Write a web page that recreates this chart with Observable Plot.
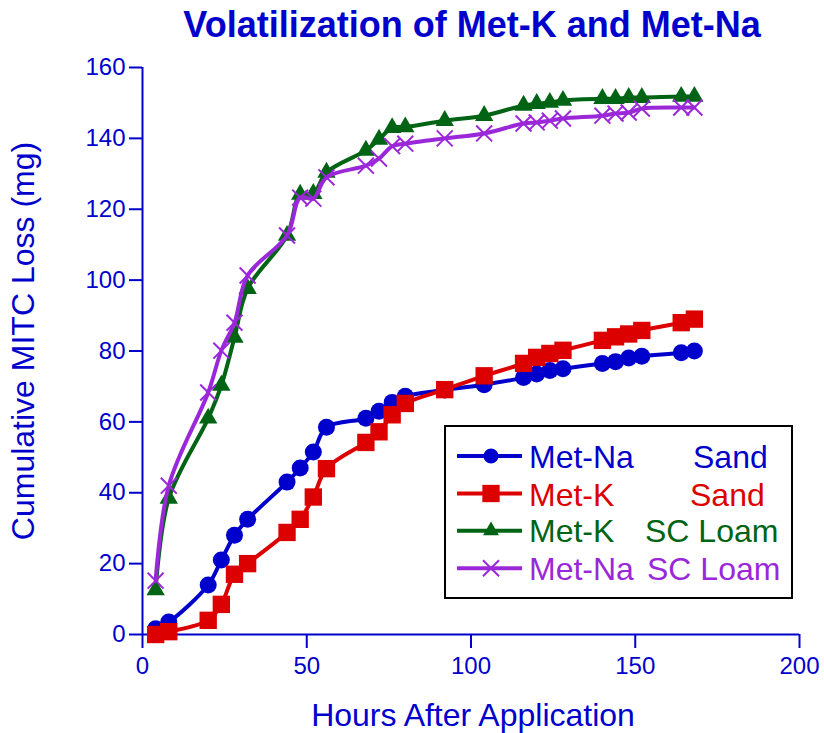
<!DOCTYPE html>
<html><head><meta charset="utf-8">
<script src="https://cdn.jsdelivr.net/npm/d3@7"></script>
<script src="https://cdn.jsdelivr.net/npm/@observablehq/plot@0.6"></script>
<style>
body{margin:0;background:#fff;}
#wrap{position:relative;width:824px;height:733px;font-family:"Liberation Sans",Arial,sans-serif;}
#title{height:50px;line-height:50px;font-weight:bold;font-size:36px;color:#0000cc;text-align:center;padding-left:120px;box-sizing:border-box;width:824px;white-space:nowrap;}
#legend{position:absolute;left:444px;top:425px;}
</style></head><body>
<div id="wrap"><div id="title">Volatilization of Met-K and Met-Na</div><div id="chart"></div><svg id="legend" width="350" height="176"></svg></div>
<script>
const hours = [4,8,20,24,28,32,44,48,52,56,68,72,76,80,92,104,116,120,124,128,140,144,148,152,164,168];
const metNaSand = [1.6,3.5,14,21,28,32.5,43,47,51.5,58.5,61,63,65.5,67.2,69,70.5,72.5,73.5,74.5,75,76.5,77,78,78.5,79.5,80];
const metKSand  = [0,0.8,4,8.5,17,20,28.8,32.5,38.8,46.8,54.2,57.2,62,65.2,69.1,73,76.5,78.2,79.3,80.2,83,84,84.8,85.8,88,89];
const metKLoam  = [12.6,38.4,61,70.3,83.8,97.6,112.6,124.2,124.4,130.4,136.6,139.7,143,143.2,145,146.4,149.3,149.8,150.1,150.7,151.2,151.2,151.5,151.5,151.8,151.8];
const metNaLoam = [15.2,42,68.3,80.1,88,101.3,112.6,123.3,123,129,132.3,134.3,137.8,138.5,140,141.4,144.2,144.5,145,145.6,146.4,147,147.3,148.4,148.7,148.7];
const compounds = ["Met-Na","Met-K","Met-K","Met-Na"];
const soils = ["Sand","Sand","SC Loam","SC Loam"];
const colors = ["#0000cc","#dd0000","#006414","#9b28d8"];
const symbols = ["circle","square","triangle","times"];
const xTicks = [0,50,100,150,200];
const yTicks = [0,20,40,60,80,100,120,140,160];
const xLabel = "Hours After Application";
const yLabel = "Cumulative MITC Loss (mg)";
const BLUE = "#0000cc";

const seriesValues = [metNaSand, metKSand, metKLoam, metNaLoam];
const series = seriesValues.map((vals,i)=>({
  key: compounds[i]+" "+soils[i], color: colors[i], symbol: symbols[i],
  rows: hours.map((h,j)=>({hours:h, loss:vals[j]}))
}));
const dotR = {circle:8.5, square:9.8, triangle:6.8, times:7.3};

const marks = [
  Plot.axisX({ticks:xTicks, tickSize:14, tickPadding:8, strokeWidth:2, fontSize:24, label:null}),
  Plot.axisY({ticks:yTicks, tickSize:13, tickPadding:4, strokeWidth:2, fontSize:24, label:null}),
  Plot.ruleY([0],{stroke:BLUE, strokeWidth:2}),
  Plot.ruleX([0],{stroke:BLUE, strokeWidth:2}),
  Plot.text([xLabel],{text:d=>d, frameAnchor:"bottom", textAnchor:"middle", lineAnchor:"top", dy:69, dx:2, fontSize:32, fill:BLUE}),
  Plot.text([yLabel],{text:d=>d, frameAnchor:"left", textAnchor:"middle", rotate:-90, lineAnchor:"top", dx:-131, dy:-10, fontSize:32, fill:BLUE})
];
for (const s of series) {
  marks.push(Plot.line(s.rows,{x:"hours", y:"loss", stroke:s.color, strokeWidth:4, curve:"catmull-rom"}));
  if (s.symbol === "times") {
    marks.push(Plot.dot(s.rows,{x:"hours", y:"loss", symbol:"times", r:dotR.times, stroke:s.color, strokeWidth:2, fill:"none"}));
  } else {
    marks.push(Plot.dot(s.rows,{x:"hours", y:"loss", symbol:s.symbol, r:dotR[s.symbol], fill:s.color, stroke:"none"}));
  }
}

const chart = Plot.plot({
  width: 824, height: 683,
  marginLeft: 142, marginRight: 25, marginTop: 17, marginBottom: 99,
  x: {domain:[0,200]},
  y: {domain:[0,160]},
  style: {color: BLUE, fontFamily: '"Liberation Sans", Arial, sans-serif', background:"#fff", overflow:"visible"},
  marks
});
document.getElementById("chart").appendChild(chart);

// legend
const lg = d3.select("#legend");
lg.append("rect").attr("x",1).attr("y",1).attr("width",347).attr("height",172)
  .attr("fill","#fff").attr("stroke","#000").attr("stroke-width",2);
const lineY = [31,68.5,105.7,143.3];
const baseY = [43,81,117,155];
const soilX = [249,246,201,203];
const legSize = {circle:180, square:300, triangle:110, times:170};
series.forEach((s,i)=>{
  lg.append("line").attr("x1",13).attr("x2",78).attr("y1",lineY[i]).attr("y2",lineY[i])
    .attr("stroke",s.color).attr("stroke-width",4);
  const sym = {circle:d3.symbolCircle, square:d3.symbolSquare, triangle:d3.symbolTriangle, times:d3.symbolTimes}[s.symbol];
  const p = lg.append("path").attr("d", d3.symbol(sym, legSize[s.symbol])())
    .attr("transform",`translate(47,${lineY[i]})`);
  if (s.symbol==="times") p.attr("fill","none").attr("stroke",s.color).attr("stroke-width",2);
  else p.attr("fill",s.color);
  lg.append("text").attr("x",85).attr("y",baseY[i]).attr("fill",s.color)
    .attr("font-size",32).attr("font-family",'"Liberation Sans", Arial, sans-serif').text(compounds[i]);
  lg.append("text").attr("x",soilX[i]).attr("y",baseY[i]).attr("fill",s.color)
    .attr("font-size",32).attr("font-family",'"Liberation Sans", Arial, sans-serif').text(soils[i]);
});
</script>
</body></html>
